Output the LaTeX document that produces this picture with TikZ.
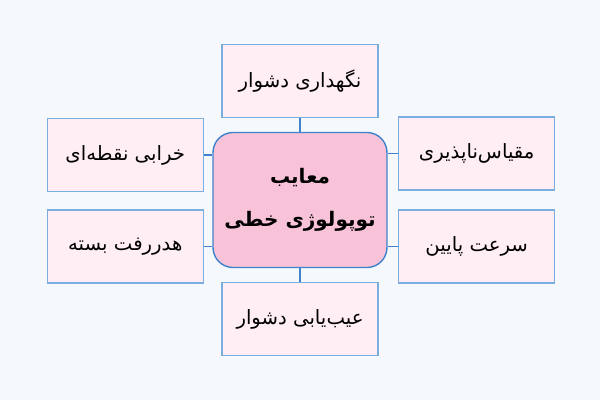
\documentclass[tikz,border=0pt]{standalone}
\usepackage{fontspec}
\newfontfamily\farsi[Script=Arabic]{DejaVu Sans}
\TeXXeTstate=1
\usetikzlibrary{positioning}
\definecolor{bgcol}{HTML}{F5F9FE}
\definecolor{itemfill}{HTML}{FFEEF4}
\definecolor{itemline}{HTML}{7AAEE0}
\definecolor{hubfill}{HTML}{F8C3D8}
\definecolor{hubline}{HTML}{3F83CC}
\newcommand{\fa}[1]{\farsi\beginR #1\endR}

\begin{document}
\begin{tikzpicture}[x=0.02cm,y=0.02cm,
    item/.style={draw=itemline,fill=itemfill,line width=0.6pt,
        minimum width=3.12cm,minimum height=1.46cm,font=\fontsize{11.2}{13}\selectfont},
    hub/.style={draw=hubline,fill=hubfill,line width=0.8pt,rounded corners=0.4cm,
        minimum width=3.48cm,minimum height=2.7cm,align=center,inner sep=2pt,
        font=\fontsize{11.4}{24.5}\selectfont\bfseries},
    link/.style={draw=hubline,line width=0.6pt}]
    \fill[bgcol] (0,0) rectangle (600,400);
    \useasboundingbox (0,0) rectangle (600,400);
    % hub
    \node[hub] (c) at (300,200) {\fa{معایب}\\\fa{توپولوژی خطی}};
    % items around
    \node[item,above=0.28cm of c] (top) {\fa{نگهداری دشوار}};
    \node[item,below=0.28cm of c] (bot) {\fa{عیب‌یابی دشوار}};
    \node[item,left=0.17cm of c.west,anchor=east,yshift=0.9cm] (lt) {\fa{خرابی نقطه‌ای}};
    \node[item,left=0.17cm of c.west,anchor=east,yshift=-0.93cm] (lb) {\fa{هدررفت بسته}};
    \node[item,right=0.21cm of c.east,anchor=west,yshift=0.93cm] (rt) {\fa{مقیاس‌ناپذیری}};
    \node[item,right=0.21cm of c.east,anchor=west,yshift=-0.93cm] (rb) {\fa{سرعت پایین}};
    % links
    \draw[link] (top) -- (c);
    \draw[link] (bot) -- (c);
    \draw[link] (lt.east) -- (lt.east -| c.west);
    \draw[link] (lb.east) -- (lb.east -| c.west);
    \draw[link] (rt.west) -- (rt.west -| c.east);
    \draw[link] (rb.west) -- (rb.west -| c.east);
\end{tikzpicture}
\end{document}
